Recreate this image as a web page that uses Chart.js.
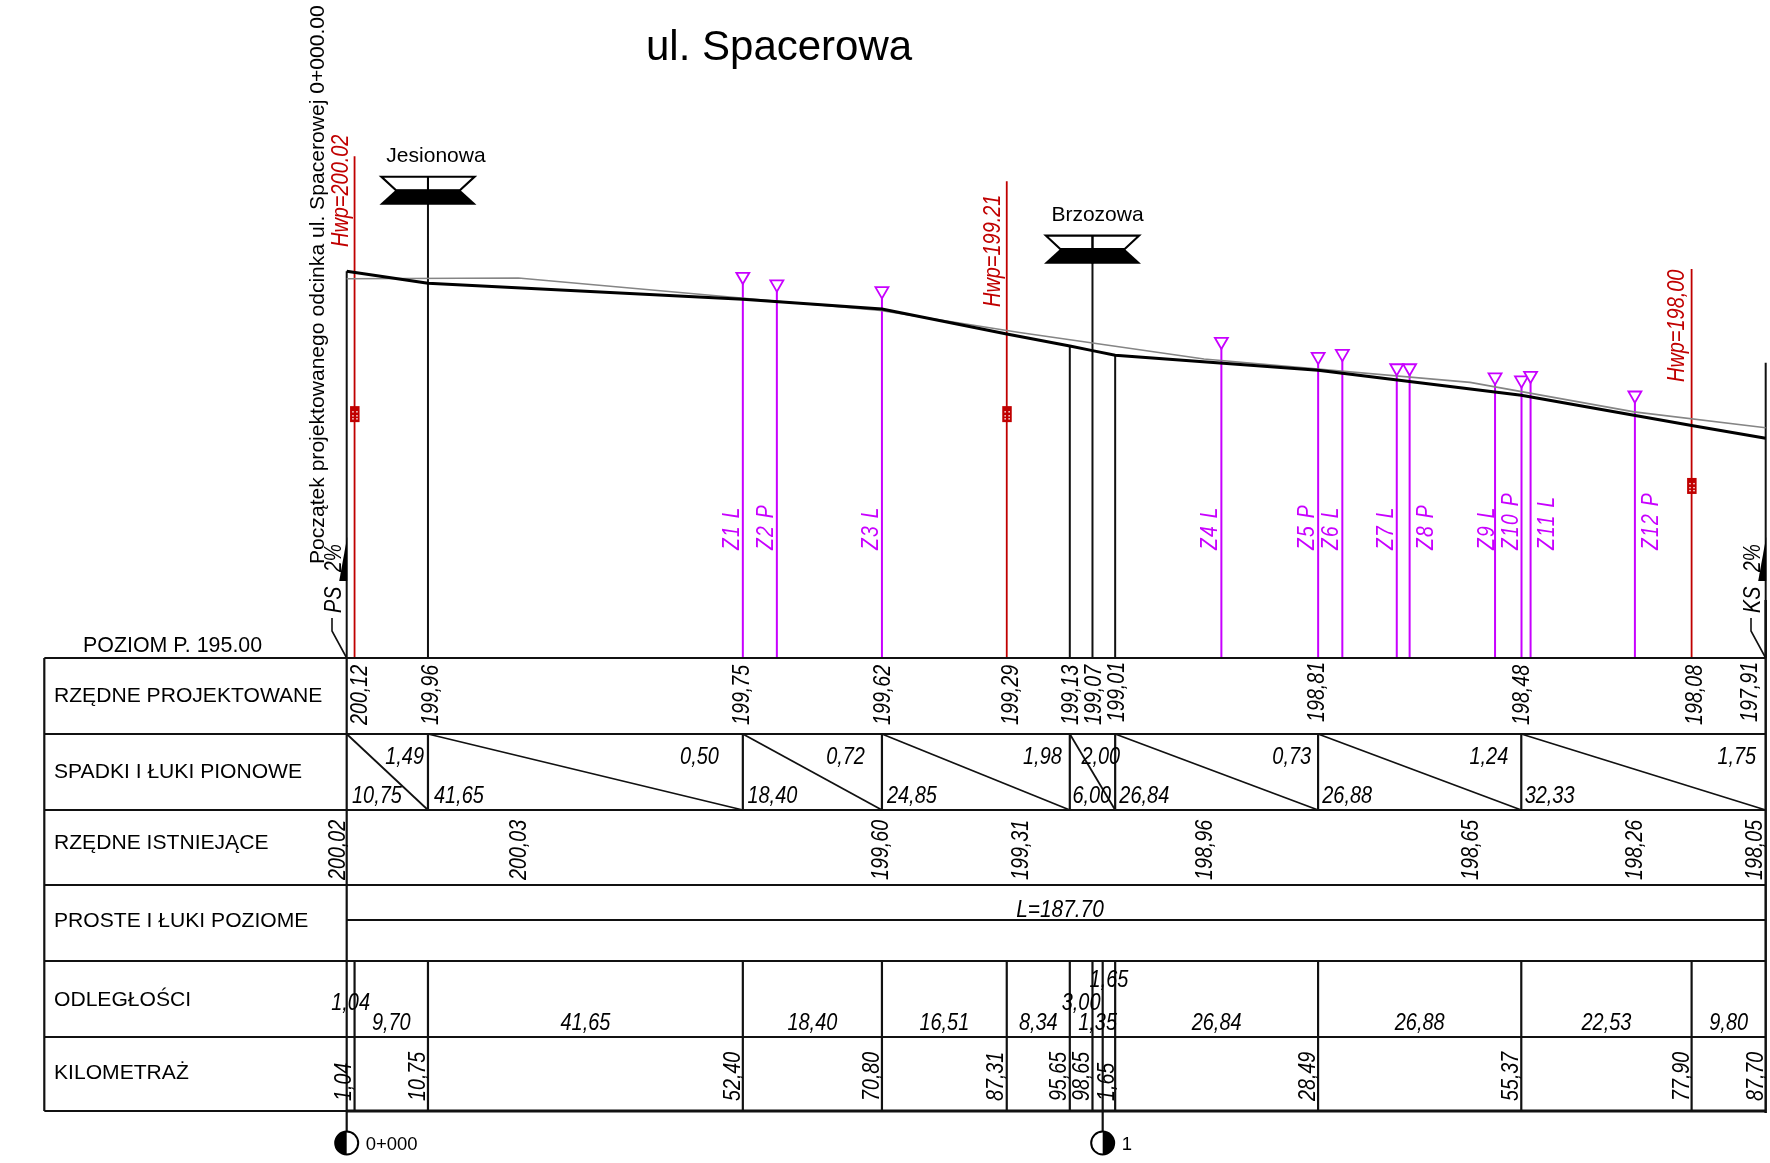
<!DOCTYPE html>
<html><head><meta charset="utf-8">
<style>html,body{margin:0;padding:0;background:#fff}canvas{display:block}</style>
<script src="https://cdn.jsdelivr.net/npm/chart.js@4"></script>
</head><body>
<canvas id="c" width="1770" height="1163"></canvas>
<script>
// ---- values ----
const designStations = [0,10.75,52.40,70.80,87.31,95.65,98.65,101.65,128.49,155.37,177.90,187.70];
const designElevations = [200.12,199.96,199.75,199.62,199.29,199.13,199.07,199.01,198.81,198.48,198.08,197.91];
const existingStations = [0,22.7,70.6,89.0,113.4,148.6,170.3,187.70];
const existingElevations = [200.02,200.03,199.60,199.31,198.96,198.65,198.26,198.05];
const gradeBreaks = [0,10.75,52.40,70.80,95.65,101.65,128.49,155.37,187.70];
const gradeSlopes = ['1,49','0,50','0,72','1,98','2,00','0,73','1,24','1,75'];
const gradeLengths = ['10,75','41,65','18,40','24,85','6,00','26,84','26,88','32,33'];
const distanceBreaks = [0,1.04,10.75,52.40,70.80,87.31,95.65,98.65,100,101.65,128.49,155.37,177.90,187.70];
const distanceLabels = ['1,04','9,70','41,65','18,40','16,51','8,34','3,00','1,35','1,65','26,84','26,88','22,53','9,80'];
const chainageStations = [1.04,10.75,52.40,70.80,87.31,95.65,98.65,101.65,128.49,155.37,177.90,187.70];
const chainageLabels = ['1,04','10,75','52,40','70,80','87,31','95,65','98,65','1,65','28,49','55,37','77,90','87,70'];
const rowNames = ['RZĘDNE PROJEKTOWANE','SPADKI I ŁUKI PIONOWE','RZĘDNE ISTNIEJĄCE','PROSTE I ŁUKI POZIOME','ODLEGŁOŚCI','KILOMETRAŻ'];
const connectionNames = ['Z1 L','Z2 P','Z3 L','Z4 L','Z5 P','Z6 L','Z7 L','Z8 P','Z9 L','Z10 P','Z11 L','Z12 P'];
const connectionStations = [52.4,56.9,70.8,115.7,128.5,131.7,138.9,140.6,151.9,155.4,156.6,170.4];
const connectionTops = [200.05,199.95,199.86,199.19,198.99,199.03,198.84,198.84,198.72,198.68,198.74,198.48];
const hydrantStations = [1.04,87.31,177.90];
const hydrantTops = [201.64,201.31,200.15];
const hydrantBoxes = [198.23,198.23,197.28];
const hydrantNames = ['Hwp=200.02','Hwp=199.21','Hwp=198,00'];
const crossStreets = ['Jesionowa','Brzozowa'];
const crossStations = [10.75,98.65];
const crossTops = [201.37,200.59];
const plainStations = [0,95.65,101.65,187.70];
const plainTops = [200.12,199.13,199.01,198.91];
const datum = 195;

// ---- layout (pixels, not data) ----
const SANS = '"Liberation Sans", Arial, sans-serif';
const ROW_Y = [658,734,810,885,920,961,1037,1111];
const INK = '#111', RED = '#c00000', PURPLE = '#c800ff', GRAY = '#858585';
const designDx = [12.3,2,-1.5,0,2.7,0,0,1,-2,0,2.3,-17];
const designBottom = [725,725,725,725,725,725,725,722,722,725,725,722];
const existingDx = [-10,0,0,0,0,0,0,-12];
const slopeDx = [-4,-24,-17,-8,5,-7,-13,-9.5];
const lengthDx = [5.3,6,4.6,5,2.6,4.2,4.2,3.4];
const distBaseByLabel = [1010,1030,1030,1030,1030,1030,1010,1030,987,1030,1030,1030,1030];
const chainageDx = [-12,-11,-10.7,-11,-11.5,-11.5,-11.5,-9.2,-11,-11,-11,-11];
const connDx = [-12,-12,-12,-12,-12,-12,-12,15,-9,-11,15,15];
const hydrantLabelX = [341,993,1677];
const hydrantLabelBottom = [247,307,382];
const streetLabelX = [8,5];
const streetLabelY = [162,221];
const SQUEEZE = 0.82, SQUEEZE_FLAT = 0.83, VNUDGE = 1.4;

const toXY = (xs, ys) => xs.map((x, i) => ({x, y: ys[i]}));
const stems = (xs, tops) => xs.flatMap((x, i) => [{x, y: tops[i]}, {x, y: datum}, {x, y: null}]);

const profilePlugin = {
  id: 'profile',
  afterDatasetsDraw(chart) {
    const {ctx} = chart;
    const X = v => chart.scales.x.getPixelForValue(v);
    const Y = v => chart.scales.y.getPixelForValue(v);
    const line = (x1, y1, x2, y2, w = 2.2, col = INK) => {
      ctx.beginPath(); ctx.moveTo(x1, y1); ctx.lineTo(x2, y2);
      ctx.lineWidth = w; ctx.strokeStyle = col; ctx.stroke();
    };
    const text = (s, x, y, font, align = 'left', col = '#000', sx = 1) => {
      ctx.save(); ctx.translate(x, y); ctx.scale(sx, 1);
      ctx.font = font; ctx.fillStyle = col; ctx.textAlign = align; ctx.textBaseline = 'alphabetic';
      ctx.fillText(s, 0, 0); ctx.restore();
    };
    const vtext = (s, cx, bottom, font, col = '#000', sx = 1, sp = '0px') => {
      ctx.save(); ctx.translate(cx, bottom); ctx.rotate(-Math.PI / 2); ctx.scale(sx, 1);
      ctx.font = font; ctx.fillStyle = col; ctx.textAlign = 'left'; ctx.textBaseline = 'middle';
      ctx.letterSpacing = sp; ctx.fillText(s, 0, 0); ctx.restore();
    };
    const poly = (pts, fill, stroke) => {
      ctx.beginPath(); pts.forEach((p, i) => i ? ctx.lineTo(p[0], p[1]) : ctx.moveTo(p[0], p[1])); ctx.closePath();
      if (fill) { ctx.fillStyle = fill; ctx.fill(); }
      if (stroke) { ctx.strokeStyle = stroke; ctx.lineWidth = 2.2; ctx.stroke(); }
    };
    const NUM = 'italic 24px ' + SANS;
    const LBL = '21.1px ' + SANS;

    const L = X(-40), R = X(187.7), O = X(0);
    // table frame
    ROW_Y.forEach((y, i) => {
      if (i === 4) line(O, y, R, y);
      else if (i === 7) { line(L, y, O, y); line(O, y, R, y, 3); }
      else line(L, y, R, y);
    });
    line(L, ROW_Y[0], L, ROW_Y[7]);
    line(O, ROW_Y[0], O, 1143);
    line(R, 600, R, ROW_Y[7] + 2, 2.5);
    line(X(100), ROW_Y[5], X(100), 1143);
    // grades row
    gradeBreaks.slice(1, -1).forEach(s => line(X(s), ROW_Y[1], X(s), ROW_Y[2]));
    gradeSlopes.forEach((v, i) => {
      const a = X(gradeBreaks[i]), b = X(gradeBreaks[i + 1]);
      line(a, ROW_Y[1], b, ROW_Y[2], 1.8);
      text(v, b + slopeDx[i], 764, NUM, 'right', '#000', SQUEEZE_FLAT);
      text(gradeLengths[i], a + lengthDx[i], 803, NUM, 'left', '#000', SQUEEZE_FLAT);
    });
    // distance + chainage rows
    chainageStations.slice(0, -1).forEach(s => line(X(s), ROW_Y[5], X(s), ROW_Y[7]));
    distanceLabels.forEach((v, i) => {
      const mid = X((distanceBreaks[i] + distanceBreaks[i + 1]) / 2);
      text(v, mid, distBaseByLabel[i], NUM, 'center', '#000', SQUEEZE_FLAT);
    });
    chainageLabels.forEach((v, i) => vtext(v, X(chainageStations[i]) + chainageDx[i] + VNUDGE, 1101, NUM, '#000', SQUEEZE));
    // elevation rows
    designElevations.forEach((v, i) => vtext(v.toFixed(2).replace('.', ','), X(designStations[i]) + designDx[i] + VNUDGE, designBottom[i], NUM, '#000', SQUEEZE));
    existingElevations.forEach((v, i) => vtext(v.toFixed(2).replace('.', ','), X(existingStations[i]) + existingDx[i] + VNUDGE, 880, NUM, '#000', SQUEEZE));
    text('L=187.70', 1060, 916.7, NUM, 'center', '#000', 0.87);
    // row names
    const rowBase = [701.7,777.8,849,927.3,1005.7,1079.3];
    rowNames.forEach((n, i) => text(n, 54, rowBase[i], LBL));
    text('POZIOM P. 195.00', 83, 652, '21.4px ' + SANS);

    // title + side text
    text('ul. Spacerowa', 646, 60, '42px ' + SANS);
    vtext('Początek projektowanego odcinka ul. Spacerowej 0+000.00', 318.5, 564, '21.1px ' + SANS);
    vtext('Koniec projektowanego odcinka ul. Spacerowej 0+187.70', 1780, 600, '21.1px ' + SANS);

    // cross streets
    crossStreets.forEach((n, i) => {
      const c = X(crossStations[i]), t = Y(crossTops[i]);
      poly([[c - 46.5, t], [c + 46.5, t], [c + 32, t + 13.5], [c - 32, t + 13.5]], null, '#000');
      poly([[c - 32, t + 13], [c + 32, t + 13], [c + 48.5, t + 28], [c - 48.5, t + 28]], '#000');
      line(c, t, c, t + 28, 2, '#000');
      text(n, c + streetLabelX[i], streetLabelY[i], '21px ' + SANS, 'center');
    });

    // hydrants
    hydrantNames.forEach((n, i) => {
      const c = X(hydrantStations[i]), y = Y(hydrantBoxes[i]);
      ctx.fillStyle = RED; ctx.fillRect(c - 4.5, y - 8, 9.5, 16);
      ctx.fillStyle = '#fff';
      [-3, 1, 4].forEach(dy => [-2.3, 1.7].forEach(dx => ctx.fillRect(c + dx, y + dy, 1.4, 1.4)));
      vtext(n, hydrantLabelX[i], hydrantLabelBottom[i], 'italic 24px ' + SANS, RED, 0.83);
    });

    // connection names
    connectionNames.forEach((n, i) => vtext(n, X(connectionStations[i]) + connDx[i] + VNUDGE, 550, 'italic 23.5px ' + SANS, PURPLE, SQUEEZE, '1.6px'));

    // PS / KS
    [[O, 'PS', 332, 334.5], [R, 'KS', 1751, 1753.5]].forEach(([x, s, bx, tx]) => {
      poly([[x + .5, 537], [x + .5, 581], [x - 7.5, 581]], '#000');
      vtext('2%', x - 12, 572, 'italic 24px ' + SANS, '#000', 0.8);
      vtext(s, tx, 613, 'italic 24px ' + SANS, '#000', SQUEEZE);
      ctx.beginPath(); ctx.moveTo(x, ROW_Y[0]); ctx.lineTo(bx, 631); ctx.lineTo(bx, 618);
      ctx.lineWidth = 1.6; ctx.strokeStyle = INK; ctx.stroke();
    });

    // chainage markers
    [[O, '0+000', true], [X(100), '1', false]].forEach(([x, s, leftBlack]) => {
      ctx.beginPath(); ctx.arc(x, 1143, 11.5, 0, Math.PI * 2); ctx.fillStyle = '#fff'; ctx.fill();
      ctx.lineWidth = 2; ctx.strokeStyle = '#000'; ctx.stroke();
      ctx.beginPath();
      if (leftBlack) ctx.arc(x, 1143, 11.5, Math.PI / 2, Math.PI * 1.5);
      else ctx.arc(x, 1143, 11.5, -Math.PI / 2, Math.PI / 2);
      ctx.closePath(); ctx.fillStyle = '#000'; ctx.fill();
      text(s, x + 19, 1150, '18.5px ' + SANS);
    });
  }
};

new Chart(document.getElementById('c'), {
  type: 'scatter',
  data: {
    datasets: [
      {label: 'Przyłącza', data: toXY(connectionStations, connectionTops), showLine: false, order: 0,
       pointStyle: 'triangle', rotation: 180, pointRadius: 7.5, pointBackgroundColor: '#fff', pointBorderColor: PURPLE, pointBorderWidth: 1.8},
      {label: 'Niweleta projektowana', data: toXY(designStations, designElevations), showLine: true, borderColor: '#000', borderWidth: 3, pointRadius: 0, order: 1},
      {label: 'Teren istniejący', data: toXY(existingStations, existingElevations), showLine: true, borderColor: GRAY, borderWidth: 1.6, pointRadius: 0, order: 2},
      {label: 'Przyłącza rzędne', data: stems(connectionStations, connectionTops), showLine: true, spanGaps: false, borderColor: PURPLE, borderWidth: 2, pointRadius: 0, order: 3},
      {label: 'Hydranty', data: stems(hydrantStations, hydrantTops), showLine: true, spanGaps: false, borderColor: RED, borderWidth: 1.8, pointRadius: 0, order: 3},
      {label: 'Skrzyżowania', data: stems(crossStations, crossTops), showLine: true, spanGaps: false, borderColor: INK, borderWidth: 2, pointRadius: 0, order: 3},
      {label: 'Punkty', data: stems(plainStations, plainTops), showLine: true, spanGaps: false, borderColor: INK, borderWidth: 2, pointRadius: 0, order: 3}
    ]
  },
  options: {
    responsive: false, animation: false, devicePixelRatio: 1,
    layout: {padding: 0, autoPadding: false},
    plugins: {legend: {display: false}, tooltip: {enabled: false}},
    scales: {
      x: {type: 'linear', display: false, min: -45.86, max: 188.27},
      y: {type: 'linear', display: false, min: 188.324, max: 203.708}
    }
  },
  plugins: [profilePlugin]
});
</script>
</body></html>
